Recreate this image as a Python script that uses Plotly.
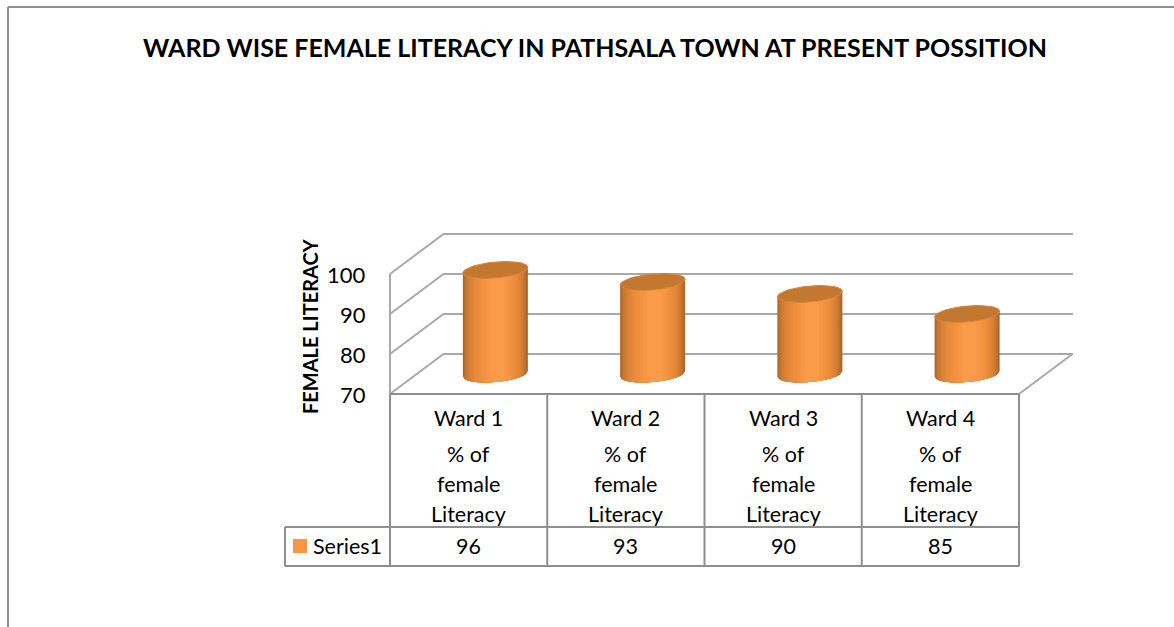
import numpy as np
import plotly.graph_objects as go

wards = ["Ward 1", "Ward 2", "Ward 3", "Ward 4"]
row_label = ["% of", "female", "Literacy"]
series_name = "Series1"
literacy = [96, 93, 90, 85]
y_ticks = [70, 80, 90, 100]
title = "WARD WISE FEMALE LITERACY IN PATHSALA TOWN AT PRESENT POSSITION"
y_title = "FEMALE LITERACY"

# shading of the cylinders, painted outside in: left edge, right edge, colour
band_left = [0.0, 0.015, 0.03, 0.05, 0.08, 0.11, 0.15, 0.19, 0.24, 0.3, 0.36, 0.42]
band_right = [1.0, 0.98, 0.96, 0.94, 0.92, 0.89, 0.86, 0.83, 0.79, 0.75, 0.7, 0.64]
band_colors = ["#a9662e", "#b56c2f", "#c07331", "#ca7933", "#d37e35", "#dc8337", "#e38739",
               "#e98b3b", "#ee8f3e", "#f39341", "#f79745", "#fa9b49"]

FONT = "Lato"
GRID = "#a9a9a9"
TABLE = "#8e8e8e"

# whole page is one axis pair: wards along x, percent along y
W, H = 1174, 627
PX_WARD = 157.25
PX_UNIT = 4.0
X0_PX, Y0_PX = 390, 394


def xp(px):
    return (px - X0_PX) / PX_WARD


def yp(py):
    return 70 + (Y0_PX - py) / PX_UNIT


DEPTH_X = xp(X0_PX + 53.5)
DEPTH_Y = 10
RX = 32.5 / PX_WARD
RY = 2.0
SHEAR = 0.7
CELL_BOTTOM = yp(527)
TABLE_BOTTOM = yp(566)
LEGEND_LEFT = xp(285)

fig = go.Figure()


def add_line(xs, ys, color, width):
    fig.add_trace(go.Scatter(x=xs, y=ys, mode="lines", line=dict(color=color, width=width),
                             hoverinfo="skip", showlegend=False))


# walls and floor
n = len(wards)
wall_x, wall_y = [], []
for t in y_ticks:
    wall_x += [0, DEPTH_X, xp(1073), None]
    wall_y += [t, t + DEPTH_Y, t + DEPTH_Y, None]
wall_x += [n, n + DEPTH_X, None, 0, 0]
wall_y += [70, 70 + DEPTH_Y, None, 70, y_ticks[-1]]
add_line(wall_x, wall_y, GRID, 2)


def arc(cx, cy, f0, f1):
    # lower edge of the ellipse between two fractions of the cylinder width
    f = np.linspace(f0, f1, 24)
    c = 2 * f - 1
    return cx + RX * c, cy + SHEAR * c - RY * np.sqrt(1 - c ** 2)


# cylinder bodies
for f0, f1, color in zip(band_left, band_right, band_colors):
    xs, ys = [], []
    for i, v in enumerate(literacy):
        cx = i + 0.5 + DEPTH_X / 2
        bx, by = arc(cx, 70 + DEPTH_Y / 2, f0, f1)
        tx, ty = arc(cx, v + DEPTH_Y / 2, f0, f1)
        xs += list(bx) + list(tx[::-1]) + [None]
        ys += list(by) + list(ty[::-1]) + [None]
    fig.add_trace(go.Scatter(x=xs, y=ys, mode="lines", fill="toself", fillcolor=color,
                             line=dict(width=0, color=color), hoverinfo="skip", showlegend=False))

# cylinder tops
angle = np.linspace(0, 2 * np.pi, 60)
top_x, top_y = [], []
for i, v in enumerate(literacy):
    cx = i + 0.5 + DEPTH_X / 2
    top_x += list(cx + RX * np.cos(angle)) + [None]
    top_y += list(v + DEPTH_Y / 2 + SHEAR * np.cos(angle) + RY * np.sin(angle)) + [None]
fig.add_trace(go.Scatter(x=top_x, y=top_y, mode="lines", fill="toself", fillcolor="#c4782f",
                         line=dict(width=1, color="#d9853a"), hoverinfo="skip", showlegend=False))

# data table
table_x, table_y = [], []
for i in range(n + 1):
    table_x += [i, i, None]
    table_y += [70, TABLE_BOTTOM, None]
table_x += [0, n, None, LEGEND_LEFT, n, None, LEGEND_LEFT, n, None, LEGEND_LEFT, LEGEND_LEFT]
table_y += [70, 70, None, CELL_BOTTOM, CELL_BOTTOM, None, TABLE_BOTTOM, TABLE_BOTTOM, None, CELL_BOTTOM, TABLE_BOTTOM]
add_line(table_x, table_y, TABLE, 2)

# legend key inside the table
fig.add_trace(go.Scatter(x=[xp(300)], y=[yp(546)], mode="markers",
                         marker=dict(symbol="square", size=14, color="#f79646"),
                         hoverinfo="skip", showlegend=False))


def label(x, y, text, size=21.5, bold=False, angle=0, xanchor="center"):
    fig.add_annotation(x=x, y=y, text="<b>%s</b>" % text if bold else text, showarrow=False,
                       xanchor=xanchor, yanchor="middle", textangle=angle,
                       font=dict(family=FONT, size=size, color="#000000"))


label(xp(595), yp(47), title, size=25, bold=True)
label(xp(310), yp(326), y_title, size=20, bold=True, angle=-90)
label(xp(311), yp(546), series_name, xanchor="left")
for t in y_ticks:
    label(xp(368), t, str(t), size=22, xanchor="right")
for i, (w, v) in enumerate(zip(wards, literacy)):
    label(i + 0.5, yp(418), w)
    for py, text in zip([454, 484, 514], row_label):
        label(i + 0.5, yp(py), text)
    label(i + 0.5, yp(546), str(v))

# page frame, open on the right and at the bottom
fig.add_shape(type="line", xref="paper", yref="paper", x0=8 / W, x1=1, y0=1 - 7 / H, y1=1 - 7 / H,
              line=dict(color=TABLE, width=2))
fig.add_shape(type="line", xref="paper", yref="paper", x0=8 / W, x1=8 / W, y0=0, y1=1 - 7 / H,
              line=dict(color=TABLE, width=2))

fig.update_layout(
    width=W, height=H, margin=dict(l=0, r=0, t=0, b=0),
    paper_bgcolor="white", plot_bgcolor="white", showlegend=False,
    xaxis=dict(range=[xp(0), xp(W)], visible=False, fixedrange=True),
    yaxis=dict(range=[yp(H), yp(0)], visible=False, fixedrange=True),
)

# the page's default body margin would push the figure off by 8px
fig.write_html("out.html", config=dict(displayModeBar=False),
               post_script="document.body.style.margin='0';document.body.style.overflow='hidden';")
